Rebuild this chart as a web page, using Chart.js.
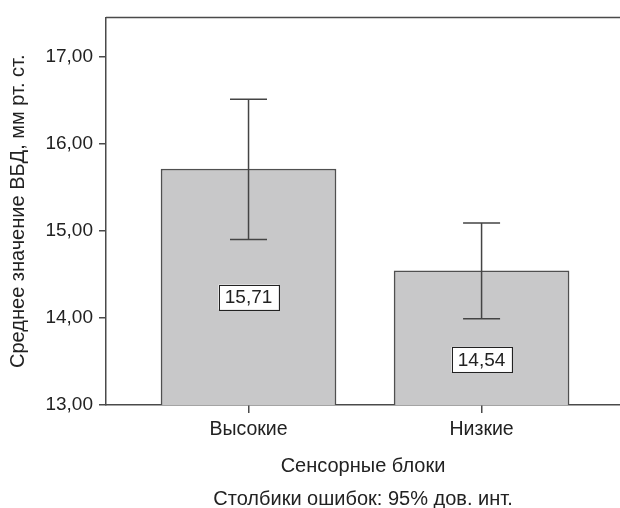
<!DOCTYPE html>
<html>
<head>
<meta charset="utf-8">
<script src="https://cdn.jsdelivr.net/npm/chart.js@4.4.1/dist/chart.umd.min.js"></script>
<style>
html,body{margin:0;padding:0;background:#fff;}
#wrap{width:620px;height:508px;position:relative;}
</style>
</head>
<body>
<div id="wrap"><canvas id="c" width="620" height="508"></canvas></div>
<script>
const categories = ['Высокие', 'Низкие'];
const means = [15.71, 14.54];
const ciLow = [14.90, 13.99];
const ciHigh = [16.51, 15.09];
const yTicks = [13, 14, 15, 16, 17];
const meanLabels = ['15,71', '14,54'];
const yTitle = 'Среднее значение ВБД, мм рт. ст.';
const xTitle = 'Сенсорные блоки';
const footer = 'Столбики ошибок: 95% дов. инт.';

const FONT = 'Liberation Sans, Arial, sans-serif';
const TXT = '#222';
const AXIS = '#4a4a4a';

const extras = {
  id: 'extras',
  afterDatasetsDraw(chart, args, opts) {
    const {ctx, chartArea} = chart;
    const x = chart.scales.x, y = chart.scales.y;
    ctx.save();
    // top frame line
    ctx.strokeStyle = AXIS; ctx.lineWidth = 1.5;
    ctx.beginPath(); ctx.moveTo(chartArea.left, chartArea.top); ctx.lineTo(chartArea.right, chartArea.top); ctx.stroke();
    // error bars
    ctx.strokeStyle = '#444'; ctx.lineWidth = 1.5;
    means.forEach((m, i) => {
      const px = x.getPixelForValue(i);
      const yl = y.getPixelForValue(ciLow[i]);
      const yh = y.getPixelForValue(ciHigh[i]);
      ctx.beginPath();
      ctx.moveTo(px, yl); ctx.lineTo(px, yh);
      ctx.moveTo(px - opts.cap, yl); ctx.lineTo(px + opts.cap, yl);
      ctx.moveTo(px - opts.cap, yh); ctx.lineTo(px + opts.cap, yh);
      ctx.stroke();
    });
    // value label boxes
    ctx.font = '19px ' + FONT;
    ctx.textAlign = 'center'; ctx.textBaseline = 'middle';
    means.forEach((m, i) => {
      const px = x.getPixelForValue(i);
      const base = y.getPixelForValue(y.min);
      const top = y.getPixelForValue(m);
      const cy = base - (base - top) * opts.labelFrac[i];
      const w = 60, h = 25;
      ctx.fillStyle = '#fff';
      ctx.fillRect(px - w / 2, cy - h / 2, w, h);
      ctx.strokeStyle = '#222'; ctx.lineWidth = 1;
      ctx.strokeRect(Math.round(px - w / 2) + 0.5, Math.round(cy - h / 2) + 0.5, w, h);
      ctx.fillStyle = TXT;
      ctx.fillText(meanLabels[i], px, cy + 1);
    });
    // footer
    ctx.font = '20px ' + FONT;
    ctx.fillStyle = TXT;
    ctx.fillText(footer, (chartArea.left + chartArea.right) / 2, opts.footerY);
    ctx.restore();
  }
};

new Chart(document.getElementById('c'), {
  type: 'bar',
  data: {
    datasets: [{
      data: means.map((v, i) => ({x: i, y: v})),
      backgroundColor: '#c8c8c9',
      borderColor: '#505050',
      borderWidth: 1.5,
      borderSkipped: 'start',
      barThickness: 175
    }]
  },
  options: {
    responsive: false,
    animation: false,
    devicePixelRatio: 1,
    layout: {padding: {left: 0, right: 0, top: 16, bottom: 0}},
    plugins: {
      legend: {display: false},
      tooltip: {enabled: false},
      extras: {cap: 18.5, labelFrac: [0.457, 0.34], footerY: 499}
    },
    scales: {
      x: {
        type: 'linear',
        offset: false,
        min: -0.6116,
        max: 1.594,
        afterBuildTicks: s => { s.ticks = categories.map((c, i) => ({value: i})); },
        afterFit: s => { s.height = 103; },
        ticks: {
          callback: v => categories[v],
          color: TXT, font: {family: FONT, size: 19.5}, padding: 5, maxRotation: 0, autoSkip: false
        },
        grid: {offset: false, drawOnChartArea: false, drawTicks: true, tickLength: 8, color: AXIS, lineWidth: 1.5},
        border: {display: true, color: AXIS, width: 1.5},
        title: {display: true, text: xTitle, color: TXT, font: {family: FONT, size: 20}, padding: {top: 0, bottom: 30}}
      },
      y: {
        min: 13,
        max: 17.45,
        afterBuildTicks: s => { s.ticks = yTicks.map(v => ({value: v})); },
        afterFit: s => { s.width = 106; },
        ticks: {
          callback: v => v.toFixed(2).replace('.', ','),
          color: TXT, font: {family: FONT, size: 19}, padding: 6
        },
        grid: {drawOnChartArea: false, drawTicks: true, tickLength: 7, color: AXIS, lineWidth: 1.5},
        border: {display: true, color: AXIS, width: 1.5},
        title: {display: true, text: yTitle, color: TXT, font: {family: FONT, size: 20}, padding: {top: 6, bottom: 0}}
      }
    }
  },
  plugins: [extras]
});
</script>
</body>
</html>
